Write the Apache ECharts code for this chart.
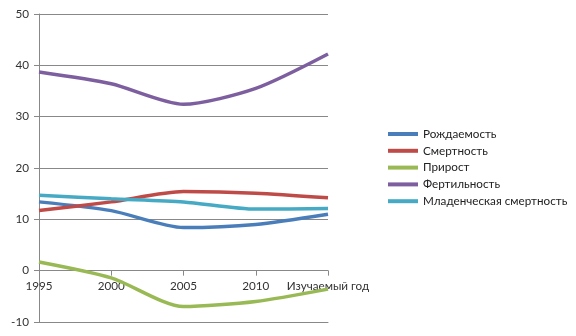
<!DOCTYPE html>
<html><head><meta charset="utf-8">
<script src="https://cdn.jsdelivr.net/npm/echarts@6/dist/echarts.min.js"></script>
<style>html,body{margin:0;padding:0;background:#fff}#c{width:576px;height:336px}</style>
</head><body><div id="c"></div>
<script>
const categories = ['1995', '2000', '2005', '2010', 'Изучаемый год'];
const birth = [13.4, 11.7, 8.4, 9.0, 11.0];
const death = [11.7, 13.4, 15.4, 15.1, 14.2];
const growth = [1.7, -1.4, -7.0, -6.0, -3.6];
const fertility = [38.7, 36.4, 32.4, 35.5, 42.2];
const infant = [14.7, 14.0, 13.4, 12.0, 12.1];
const yTicks = {min: -10, max: 50, step: 10};
const names = ['Рождаемость', 'Смертность', 'Прирост', 'Фертильность', 'Младенческая смертность'];
const colors = ['#4a7ebb', '#be4b48', '#98b954', '#7d5fa0', '#46aac4'];
const datas = [birth, death, growth, fertility, infant];

const gridTop = 14, gridBottom = 14, H = 336;
const plotH = H - gridTop - gridBottom;
const zeroOffset = -plotH * (0 - yTicks.min) / (yTicks.max - yTicks.min);

const chart = echarts.init(document.getElementById('c'), null, {renderer: 'canvas'});
chart.setOption({
  animation: false,
  textStyle: {fontFamily: 'Lato, "Noto Sans", sans-serif'},
  grid: {left: 39, right: 248, top: gridTop, bottom: gridBottom, containLabel: false},
  legend: {
    orient: 'vertical', left: 383, top: 123,
    itemWidth: 30, itemHeight: 4, itemGap: 4.8,
    icon: 'rect',
    textStyle: {fontSize: 11.7, color: '#222', fontFamily: 'Lato, sans-serif'},
    data: names
  },
  xAxis: [{
    type: 'category', data: categories, boundaryGap: false,
    offset: zeroOffset,
    axisLine: {onZero: false, lineStyle: {color: '#888', width: 1}},
    axisTick: {show: true, alignWithLabel: true, length: 5, lineStyle: {color: '#888'}},
    axisLabel: {color: '#333', fontSize: 11.7, margin: 10, interval: 0},
    splitLine: {show: false}
  }, {
    type: 'category', data: categories, boundaryGap: false, position: 'bottom',
    axisLine: {show: true, onZero: false, lineStyle: {color: '#888', width: 1}},
    axisTick: {show: false}, axisLabel: {show: false}, splitLine: {show: false}
  }],
  yAxis: {
    type: 'value', min: yTicks.min, max: yTicks.max, interval: yTicks.step,
    axisLine: {show: true, lineStyle: {color: '#888'}},
    axisTick: {show: true, length: 5, lineStyle: {color: '#888'}},
    axisLabel: {color: '#333', fontSize: 11.7, margin: 10},
    splitLine: {show: true, lineStyle: {color: '#888', width: 1}}
  },
  series: names.map((n, i) => ({
    name: n, type: 'line', data: datas[i], smooth: 0.25, z: 3,
    symbol: 'none', lineStyle: {width: 3.5, color: colors[i]},
    itemStyle: {color: colors[i]}
  }))
});
</script></body></html>
